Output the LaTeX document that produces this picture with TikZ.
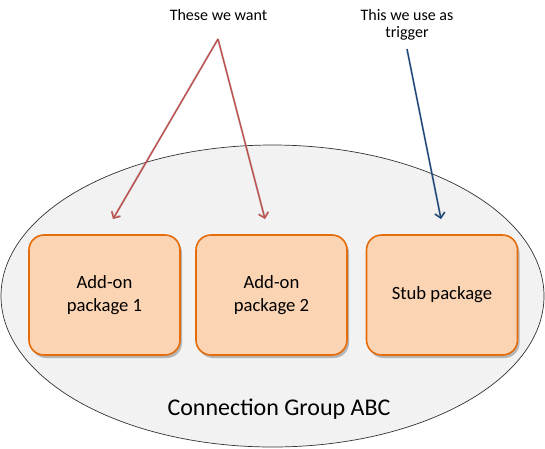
\documentclass[tikz,border=0pt]{standalone}
\usepackage{fontspec}
\setmainfont{Carlito}
\usetikzlibrary{shapes.geometric,arrows.meta,shadows}
\definecolor{boxfill}{HTML}{FBD4B4}
\definecolor{boxline}{HTML}{E46C0A}
\definecolor{grpfill}{HTML}{F2F2F2}
\definecolor{redarr}{HTML}{C0504D}
\definecolor{bluearr}{HTML}{1F497D}
\tikzset{
  pkg/.style={draw=boxline, fill=boxfill, line width=1.6pt, rounded corners=15pt,
    minimum width=151pt, minimum height=120pt, align=center,
    font=\fontsize{18.67}{23}\selectfont,
    drop shadow={shadow xshift=2pt, shadow yshift=-3pt, opacity=0.25, fill=black}},
  grp/.style={ellipse, draw=black!80, line width=0.7pt, fill=grpfill,
    minimum width=543pt, minimum height=302pt, inner sep=0pt},
  toplbl/.style={align=center, font=\fontsize{16}{17}\selectfont},
  redarrow/.style={draw=redarr, line width=1.4pt, -{Straight Barb[length=5pt,width=10pt]}},
  bluearrow/.style={draw=bluearr, line width=1.4pt, -{Straight Barb[length=5pt,width=10pt]}},
  arrshadow/.style={draw=black, opacity=0.15, line width=2.2pt, -{Straight Barb[length=5pt,width=10pt]}}
}
\begin{document}
\begin{tikzpicture}[x=1pt,y=-1pt]
\useasboundingbox (0,0) rectangle (545,448);
\node[grp] (g) at (272.5,296) {};
\node[font=\fontsize{24}{28}\selectfont] (glbl) at (279,409) {Connection Group ABC};
\node[pkg] (b1) at (104.5,295) {Add-on\\package 1};
\node[pkg] (b2) at (271.5,295) {Add-on\\package 2};
\node[pkg] (b3) at (442,295) {Stub package};
\node[toplbl, anchor=base] (l1) at (218.5,20) {These we want};
\node[toplbl, anchor=base] (l2) at (407,37) {This we use as\\trigger};
\coordinate (r0) at (218,39);
\coordinate (r1) at (113,219);
\coordinate (r2) at (265,219);
\coordinate (u0) at (407,49);
\coordinate (u1) at (441,219);
\begin{scope}[shift={(2.5,2.5)}]
\draw[arrshadow] (r0) -- (r1);
\draw[arrshadow] (r0) -- (r2);
\draw[arrshadow] (u0) -- (u1);
\end{scope}
\draw[redarrow] (r0) -- (r1);
\draw[redarrow] (r0) -- (r2);
\draw[bluearrow] (u0) -- (u1);
\end{tikzpicture}
\end{document}
